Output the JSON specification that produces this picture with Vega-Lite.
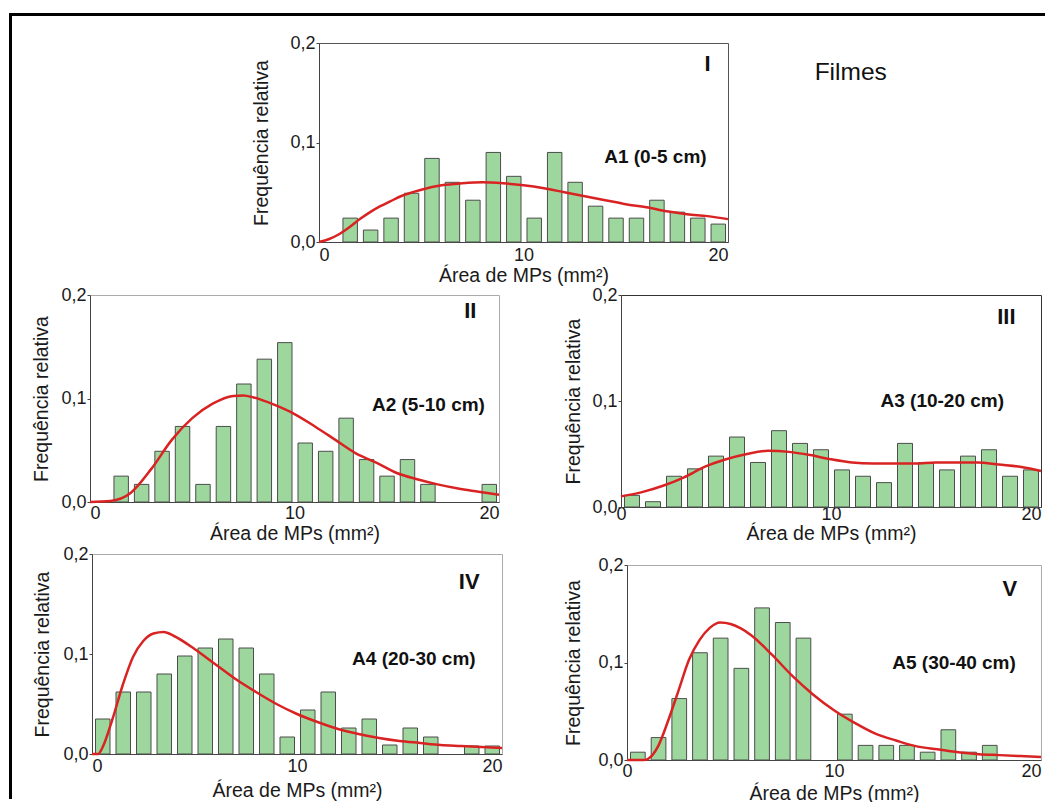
{
  "$schema": "https://vega.github.io/schema/vega-lite/v6.json",
  "background": "white",
  "padding": {"left": 10, "top": 14, "right": 0, "bottom": 0},
  "datasets": {
    "bars": [
      {"p":"I","x0":1,"x1":2,"f":0.024},{"p":"I","x0":2,"x1":3,"f":0.012},{"p":"I","x0":3,"x1":4,"f":0.024},{"p":"I","x0":4,"x1":5,"f":0.049},{"p":"I","x0":5,"x1":6,"f":0.084},{"p":"I","x0":6,"x1":7,"f":0.060},{"p":"I","x0":7,"x1":8,"f":0.042},{"p":"I","x0":8,"x1":9,"f":0.090},{"p":"I","x0":9,"x1":10,"f":0.066},{"p":"I","x0":10,"x1":11,"f":0.024},{"p":"I","x0":11,"x1":12,"f":0.090},{"p":"I","x0":12,"x1":13,"f":0.060},{"p":"I","x0":13,"x1":14,"f":0.036},{"p":"I","x0":14,"x1":15,"f":0.024},{"p":"I","x0":15,"x1":16,"f":0.024},{"p":"I","x0":16,"x1":17,"f":0.042},{"p":"I","x0":17,"x1":18,"f":0.030},{"p":"I","x0":18,"x1":19,"f":0.024},{"p":"I","x0":19,"x1":20,"f":0.018},
      {"p":"II","x0":1,"x1":2,"f":0.025},{"p":"II","x0":2,"x1":3,"f":0.017},{"p":"II","x0":3,"x1":4,"f":0.049},{"p":"II","x0":4,"x1":5,"f":0.073},{"p":"II","x0":5,"x1":6,"f":0.017},{"p":"II","x0":6,"x1":7,"f":0.073},{"p":"II","x0":7,"x1":8,"f":0.114},{"p":"II","x0":8,"x1":9,"f":0.138},{"p":"II","x0":9,"x1":10,"f":0.154},{"p":"II","x0":10,"x1":11,"f":0.057},{"p":"II","x0":11,"x1":12,"f":0.049},{"p":"II","x0":12,"x1":13,"f":0.081},{"p":"II","x0":13,"x1":14,"f":0.041},{"p":"II","x0":14,"x1":15,"f":0.025},{"p":"II","x0":15,"x1":16,"f":0.041},{"p":"II","x0":16,"x1":17,"f":0.017},{"p":"II","x0":19,"x1":20,"f":0.017},
      {"p":"III","x0":0,"x1":1,"f":0.011},{"p":"III","x0":1,"x1":2,"f":0.005},{"p":"III","x0":2,"x1":3,"f":0.029},{"p":"III","x0":3,"x1":4,"f":0.036},{"p":"III","x0":4,"x1":5,"f":0.048},{"p":"III","x0":5,"x1":6,"f":0.066},{"p":"III","x0":6,"x1":7,"f":0.042},{"p":"III","x0":7,"x1":8,"f":0.072},{"p":"III","x0":8,"x1":9,"f":0.060},{"p":"III","x0":9,"x1":10,"f":0.054},{"p":"III","x0":10,"x1":11,"f":0.035},{"p":"III","x0":11,"x1":12,"f":0.029},{"p":"III","x0":12,"x1":13,"f":0.023},{"p":"III","x0":13,"x1":14,"f":0.060},{"p":"III","x0":14,"x1":15,"f":0.042},{"p":"III","x0":15,"x1":16,"f":0.035},{"p":"III","x0":16,"x1":17,"f":0.048},{"p":"III","x0":17,"x1":18,"f":0.054},{"p":"III","x0":18,"x1":19,"f":0.029},{"p":"III","x0":19,"x1":20,"f":0.035},
      {"p":"IV","x0":0,"x1":1,"f":0.035},{"p":"IV","x0":1,"x1":2,"f":0.062},{"p":"IV","x0":2,"x1":3,"f":0.062},{"p":"IV","x0":3,"x1":4,"f":0.080},{"p":"IV","x0":4,"x1":5,"f":0.098},{"p":"IV","x0":5,"x1":6,"f":0.106},{"p":"IV","x0":6,"x1":7,"f":0.115},{"p":"IV","x0":7,"x1":8,"f":0.106},{"p":"IV","x0":8,"x1":9,"f":0.080},{"p":"IV","x0":9,"x1":10,"f":0.017},{"p":"IV","x0":10,"x1":11,"f":0.044},{"p":"IV","x0":11,"x1":12,"f":0.062},{"p":"IV","x0":12,"x1":13,"f":0.026},{"p":"IV","x0":13,"x1":14,"f":0.035},{"p":"IV","x0":14,"x1":15,"f":0.009},{"p":"IV","x0":15,"x1":16,"f":0.026},{"p":"IV","x0":16,"x1":17,"f":0.017},{"p":"IV","x0":18,"x1":19,"f":0.008},{"p":"IV","x0":19,"x1":20,"f":0.008},
      {"p":"V","x0":0,"x1":1,"f":0.008},{"p":"V","x0":1,"x1":2,"f":0.023},{"p":"V","x0":2,"x1":3,"f":0.063},{"p":"V","x0":3,"x1":4,"f":0.110},{"p":"V","x0":4,"x1":5,"f":0.125},{"p":"V","x0":5,"x1":6,"f":0.094},{"p":"V","x0":6,"x1":7,"f":0.156},{"p":"V","x0":7,"x1":8,"f":0.141},{"p":"V","x0":8,"x1":9,"f":0.125},{"p":"V","x0":10,"x1":11,"f":0.047},{"p":"V","x0":11,"x1":12,"f":0.015},{"p":"V","x0":12,"x1":13,"f":0.015},{"p":"V","x0":13,"x1":14,"f":0.015},{"p":"V","x0":14,"x1":15,"f":0.008},{"p":"V","x0":15,"x1":16,"f":0.031},{"p":"V","x0":16,"x1":17,"f":0.008},{"p":"V","x0":17,"x1":18,"f":0.015}
    ],
    "curve": [
      {"p":"I","x":0,"f":0},{"p":"I","x":0.5,"f":0.003},{"p":"I","x":1,"f":0.008},{"p":"I","x":1.5,"f":0.015},{"p":"I","x":2,"f":0.023},{"p":"I","x":2.5,"f":0.030},{"p":"I","x":3,"f":0.036},{"p":"I","x":3.5,"f":0.041},{"p":"I","x":4,"f":0.046},{"p":"I","x":5,"f":0.0525},{"p":"I","x":6,"f":0.057},{"p":"I","x":7,"f":0.059},{"p":"I","x":8,"f":0.060},{"p":"I","x":9,"f":0.059},{"p":"I","x":10,"f":0.057},{"p":"I","x":11,"f":0.054},{"p":"I","x":12,"f":0.050},{"p":"I","x":13,"f":0.046},{"p":"I","x":14,"f":0.042},{"p":"I","x":15,"f":0.038},{"p":"I","x":16,"f":0.035},{"p":"I","x":17,"f":0.031},{"p":"I","x":18,"f":0.028},{"p":"I","x":19,"f":0.026},{"p":"I","x":20,"f":0.023},
      {"p":"II","x":0,"f":0},{"p":"II","x":1,"f":0.001},{"p":"II","x":2,"f":0.009},{"p":"II","x":3,"f":0.032},{"p":"II","x":4,"f":0.060},{"p":"II","x":5,"f":0.081},{"p":"II","x":6,"f":0.095},{"p":"II","x":7,"f":0.1025},{"p":"II","x":7.5,"f":0.103},{"p":"II","x":8,"f":0.101},{"p":"II","x":9,"f":0.094},{"p":"II","x":10,"f":0.085},{"p":"II","x":11,"f":0.073},{"p":"II","x":12,"f":0.060},{"p":"II","x":13,"f":0.047},{"p":"II","x":14,"f":0.038},{"p":"II","x":15,"f":0.028},{"p":"II","x":16,"f":0.022},{"p":"II","x":17,"f":0.017},{"p":"II","x":18,"f":0.013},{"p":"II","x":19,"f":0.010},{"p":"II","x":20,"f":0.007},
      {"p":"III","x":0,"f":0.010},{"p":"III","x":1,"f":0.014},{"p":"III","x":2,"f":0.020},{"p":"III","x":3,"f":0.028},{"p":"III","x":4,"f":0.038},{"p":"III","x":5,"f":0.045},{"p":"III","x":6,"f":0.050},{"p":"III","x":7,"f":0.053},{"p":"III","x":8,"f":0.052},{"p":"III","x":9,"f":0.049},{"p":"III","x":10,"f":0.045},{"p":"III","x":11,"f":0.042},{"p":"III","x":12,"f":0.041},{"p":"III","x":13,"f":0.041},{"p":"III","x":14,"f":0.041},{"p":"III","x":15,"f":0.042},{"p":"III","x":16,"f":0.042},{"p":"III","x":17,"f":0.042},{"p":"III","x":18,"f":0.040},{"p":"III","x":19,"f":0.038},{"p":"III","x":20,"f":0.034},
      {"p":"IV","x":0,"f":0},{"p":"IV","x":0.3,"f":0},{"p":"IV","x":0.5,"f":0.006},{"p":"IV","x":1,"f":0.035},{"p":"IV","x":1.5,"f":0.069},{"p":"IV","x":2,"f":0.097},{"p":"IV","x":2.5,"f":0.113},{"p":"IV","x":3,"f":0.1205},{"p":"IV","x":3.5,"f":0.122},{"p":"IV","x":4,"f":0.118},{"p":"IV","x":5,"f":0.105},{"p":"IV","x":6,"f":0.090},{"p":"IV","x":7,"f":0.075},{"p":"IV","x":8,"f":0.062},{"p":"IV","x":9,"f":0.050},{"p":"IV","x":10,"f":0.040},{"p":"IV","x":11,"f":0.032},{"p":"IV","x":12,"f":0.025},{"p":"IV","x":13,"f":0.020},{"p":"IV","x":14,"f":0.016},{"p":"IV","x":15,"f":0.013},{"p":"IV","x":16,"f":0.011},{"p":"IV","x":17,"f":0.009},{"p":"IV","x":18,"f":0.008},{"p":"IV","x":19,"f":0.007},{"p":"IV","x":20,"f":0.006},
      {"p":"V","x":0,"f":0},{"p":"V","x":0.8,"f":0},{"p":"V","x":1,"f":0.001},{"p":"V","x":1.5,"f":0.014},{"p":"V","x":2,"f":0.041},{"p":"V","x":2.5,"f":0.072},{"p":"V","x":3,"f":0.103},{"p":"V","x":3.5,"f":0.123},{"p":"V","x":4,"f":0.1355},{"p":"V","x":4.5,"f":0.141},{"p":"V","x":5,"f":0.1395},{"p":"V","x":5.5,"f":0.135},{"p":"V","x":6,"f":0.128},{"p":"V","x":7,"f":0.108},{"p":"V","x":8,"f":0.086},{"p":"V","x":9,"f":0.067},{"p":"V","x":10,"f":0.051},{"p":"V","x":11,"f":0.038},{"p":"V","x":12,"f":0.027},{"p":"V","x":13,"f":0.020},{"p":"V","x":14,"f":0.014},{"p":"V","x":15,"f":0.011},{"p":"V","x":16,"f":0.008},{"p":"V","x":17,"f":0.006},{"p":"V","x":18,"f":0.005},{"p":"V","x":19,"f":0.004},{"p":"V","x":20,"f":0.003}
    ]
  },
  "config": {
    "font": "Liberation Sans",
    "axis": {"labelFont": "Liberation Sans", "titleFont": "Liberation Sans", "labelFontSize": 18, "titleFontSize": 19.5, "titleFontWeight": "normal", "labelColor": "#1a1a1a", "titleColor": "#1a1a1a", "domainColor": "#444", "tickColor": "#444", "grid": false},
    "axisX": {"ticks": false},
    "axisY": {"tickSize": 3, "labelPadding": 1},
    "text": {"font": "Liberation Sans", "color": "#111"}
  },
  "spacing": 0,
  "hconcat": [
    {
      "width": 19.5, "height": 783,
      "view": {"stroke": null},
      "data": {"values": [{"a": 0}]},
      "mark": {"type": "point", "opacity": 0, "size": 0, "filled": true, "strokeWidth": 0},
      "encoding": {
        "x": {"field": "a", "type": "quantitative", "scale": {"domain": [0, 1]}, "axis": {"orient": "top", "domainColor": "black", "domainWidth": 3, "domainCap": "square", "ticks": false, "labels": false, "title": null}},
        "y": {"field": "a", "type": "quantitative", "scale": {"domain": [0, 1]}, "axis": {"orient": "left", "domainColor": "black", "domainWidth": 3, "domainCap": "square", "ticks": false, "labels": false, "title": null}}
      }
    },
    {
      "spacing": 0,
      "vconcat": [
        {
          "width": 1012, "height": 18.5,
          "view": {"stroke": null},
          "data": {"values": [{"a": 0}]},
          "mark": {"type": "point", "opacity": 0, "size": 0, "filled": true, "strokeWidth": 0},
          "encoding": {
            "x": {"field": "a", "type": "quantitative", "scale": {"domain": [0, 1]}, "axis": {"orient": "top", "domainColor": "black", "domainWidth": 3, "domainCap": "square", "ticks": false, "labels": false, "title": null}}
          }
        },
        {
          "bounds": "flush", "spacing": 0,
          "hconcat": [
            {"width": 287.5, "height": 1, "view": {"stroke": null}, "data": {"values": [{"a": 0}]}, "mark": {"type": "point", "opacity": 0, "size": 0, "filled": true, "strokeWidth": 0}, "encoding": {}},
            {
              "width": 409, "height": 199,
              "view": {"stroke": "#555"},
              "layer": [
                {"data": {"name": "bars"}, "transform": [{"filter": "datum.p === 'I'"}],
                 "mark": {"type": "bar", "fill": "#9dd79d", "stroke": "#4d4d4d", "strokeWidth": 1, "binSpacing": 6},
                 "encoding": {
                   "x": {"field": "x0", "type": "quantitative", "bin": "binned", "scale": {"domain": [0, 20], "nice": false, "zero": false}, "axis": {"title": "Área de MPs (mm²)", "values": [0, 10, 20], "labelPadding": 4.5, "titlePadding": 1.5}},
                   "x2": {"field": "x1"},
                   "y": {"field": "f", "type": "quantitative", "scale": {"domain": [0, 0.2], "nice": false}, "axis": {"title": "Frequência relativa", "values": [0, 0.1, 0.2], "titlePadding": 18.9, "labelExpr": "replace(format(datum.value, '.1f'), '.', ',')"}}
                 }},
                {"data": {"name": "curve"}, "transform": [{"filter": "datum.p === 'I'"}],
                 "mark": {"type": "line", "color": "#d92323", "strokeWidth": 2.5, "interpolate": "monotone"},
                 "encoding": {"x": {"field": "x", "type": "quantitative"}, "y": {"field": "f", "type": "quantitative"}}},
                {"data": {"values": [{"t": "I"}]}, "mark": {"type": "text", "fontSize": 22, "fontWeight": "bold"}, "encoding": {"x": {"datum": 19}, "y": {"datum": 0.179}, "text": {"field": "t"}}},
                {"data": {"values": [{"t": "A1 (0-5 cm)"}]}, "mark": {"type": "text", "fontSize": 19, "fontWeight": "bold"}, "encoding": {"x": {"datum": 16.45}, "y": {"datum": 0.085}, "text": {"field": "t"}}},
                {"data": {"values": [{"t": "Filmes"}]}, "mark": {"type": "text", "fontSize": 24.5}, "encoding": {"x": {"datum": 26}, "y": {"datum": 0.17}, "text": {"field": "t"}}}
              ]
            }
          ]
        },
        {
          "bounds": "flush", "spacing": 0,
          "hconcat": [
            {"width": 58.5, "height": 1, "view": {"stroke": null}, "data": {"values": [{"a": 0}]}, "mark": {"type": "point", "opacity": 0, "size": 0, "filled": true, "strokeWidth": 0}, "encoding": {}},
            {
              "width": 409, "height": 207,
              "view": {"stroke": "#aaa"},
              "layer": [
                {"data": {"name": "bars"}, "transform": [{"filter": "datum.p === 'II'"}],
                 "mark": {"type": "bar", "fill": "#9dd79d", "stroke": "#4d4d4d", "strokeWidth": 1, "binSpacing": 6},
                 "encoding": {
                   "x": {"field": "x0", "type": "quantitative", "bin": "binned", "scale": {"domain": [0, 20], "nice": false, "zero": false}, "axis": {"title": "Área de MPs (mm²)", "values": [0, 10, 20], "labelPadding": 2, "titlePadding": 2}},
                   "x2": {"field": "x1"},
                   "y": {"field": "f", "type": "quantitative", "scale": {"domain": [0, 0.2], "nice": false}, "axis": {"title": "Frequência relativa", "values": [0, 0.1, 0.2], "titlePadding": 9.5, "labelExpr": "replace(format(datum.value, '.1f'), '.', ',')"}}
                 }},
                {"data": {"name": "curve"}, "transform": [{"filter": "datum.p === 'II'"}],
                 "mark": {"type": "line", "color": "#d92323", "strokeWidth": 2.5, "interpolate": "monotone"},
                 "encoding": {"x": {"field": "x", "type": "quantitative"}, "y": {"field": "f", "type": "quantitative"}}},
                {"data": {"values": [{"t": "II"}]}, "mark": {"type": "text", "fontSize": 22, "fontWeight": "bold"}, "encoding": {"x": {"datum": 18.6}, "y": {"datum": 0.1845}, "text": {"field": "t"}}},
                {"data": {"values": [{"t": "A2 (5-10 cm)"}]}, "mark": {"type": "text", "fontSize": 19, "fontWeight": "bold"}, "encoding": {"x": {"datum": 16.55}, "y": {"datum": 0.094}, "text": {"field": "t"}}}
              ]
            },
            {"width": 122, "height": 1, "view": {"stroke": null}, "data": {"values": [{"a": 0}]}, "mark": {"type": "point", "opacity": 0, "size": 0, "filled": true, "strokeWidth": 0}, "encoding": {}},
            {
              "width": 420, "height": 212,
              "view": {"stroke": "#333"},
              "layer": [
                {"data": {"name": "bars"}, "transform": [{"filter": "datum.p === 'III'"}],
                 "mark": {"type": "bar", "fill": "#9dd79d", "stroke": "#4d4d4d", "strokeWidth": 1, "binSpacing": 6},
                 "encoding": {
                   "x": {"field": "x0", "type": "quantitative", "bin": "binned", "scale": {"domain": [0, 20], "nice": false, "zero": false}, "axis": {"title": "Área de MPs (mm²)", "values": [0, 10, 20], "labelPadding": -1.5, "titlePadding": 1, "labelAlign": {"condition": {"test": "datum.value == 20", "value": "right"}, "value": "center"}}},
                   "x2": {"field": "x1"},
                   "y": {"field": "f", "type": "quantitative", "scale": {"domain": [0, 0.2], "nice": false}, "axis": {"title": "Frequência relativa", "values": [0, 0.1, 0.2], "titlePadding": 8.9, "labelExpr": "replace(format(datum.value, '.1f'), '.', ',')"}}
                 }},
                {"data": {"name": "curve"}, "transform": [{"filter": "datum.p === 'III'"}],
                 "mark": {"type": "line", "color": "#d92323", "strokeWidth": 2.5, "interpolate": "monotone"},
                 "encoding": {"x": {"field": "x", "type": "quantitative"}, "y": {"field": "f", "type": "quantitative"}}},
                {"data": {"values": [{"t": "III"}]}, "mark": {"type": "text", "fontSize": 22, "fontWeight": "bold"}, "encoding": {"x": {"datum": 18.35}, "y": {"datum": 0.179}, "text": {"field": "t"}}},
                {"data": {"values": [{"t": "A3 (10-20 cm)"}]}, "mark": {"type": "text", "fontSize": 19, "fontWeight": "bold"}, "encoding": {"x": {"datum": 15.3}, "y": {"datum": 0.0997}, "text": {"field": "t"}}}
              ]
            }
          ]
        },
        {
          "bounds": "flush", "spacing": 0,
          "hconcat": [
            {"width": 60.5, "height": 1, "view": {"stroke": null}, "data": {"values": [{"a": 0}]}, "mark": {"type": "point", "opacity": 0, "size": 0, "filled": true, "strokeWidth": 0}, "encoding": {}},
            {
              "width": 410, "height": 200,
              "view": {"stroke": "#aaa"},
              "layer": [
                {"data": {"name": "bars"}, "transform": [{"filter": "datum.p === 'IV'"}],
                 "mark": {"type": "bar", "fill": "#9dd79d", "stroke": "#4d4d4d", "strokeWidth": 1, "binSpacing": 6},
                 "encoding": {
                   "x": {"field": "x0", "type": "quantitative", "bin": "binned", "scale": {"domain": [0, 20], "nice": false, "zero": false}, "axis": {"title": "Área de MPs (mm²)", "values": [0, 10, 20], "labelPadding": 3, "titlePadding": 6.3}},
                   "x2": {"field": "x1"},
                   "y": {"field": "f", "type": "quantitative", "scale": {"domain": [0, 0.2], "nice": false}, "axis": {"title": "Frequência relativa", "values": [0, 0.1, 0.2], "titlePadding": 10.9, "labelExpr": "replace(format(datum.value, '.1f'), '.', ',')"}}
                 }},
                {"data": {"name": "curve"}, "transform": [{"filter": "datum.p === 'IV'"}],
                 "mark": {"type": "line", "color": "#d92323", "strokeWidth": 2.5, "interpolate": "monotone"},
                 "encoding": {"x": {"field": "x", "type": "quantitative"}, "y": {"field": "f", "type": "quantitative"}}},
                {"data": {"values": [{"t": "IV"}]}, "mark": {"type": "text", "fontSize": 22, "fontWeight": "bold"}, "encoding": {"x": {"datum": 18.4}, "y": {"datum": 0.172}, "text": {"field": "t"}}},
                {"data": {"values": [{"t": "A4 (20-30 cm)"}]}, "mark": {"type": "text", "fontSize": 19, "fontWeight": "bold"}, "encoding": {"x": {"datum": 15.7}, "y": {"datum": 0.095}, "text": {"field": "t"}}}
              ]
            },
            {"width": 125, "height": 1, "view": {"stroke": null}, "data": {"values": [{"a": 0}]}, "mark": {"type": "point", "opacity": 0, "size": 0, "filled": true, "strokeWidth": 0}, "encoding": {}},
            {
              "spacing": 0,
              "vconcat": [
                {"width": 1, "height": 0.01, "view": {"stroke": null}, "data": {"values": [{"a": 0}]}, "mark": {"type": "point", "opacity": 0, "size": 0, "filled": true, "strokeWidth": 0}, "encoding": {}},
                {
                  "width": 414, "height": 195,
                  "view": {"stroke": "#aaa"},
                  "layer": [
                    {"data": {"name": "bars"}, "transform": [{"filter": "datum.p === 'V'"}],
                     "mark": {"type": "bar", "fill": "#9dd79d", "stroke": "#4d4d4d", "strokeWidth": 1, "binSpacing": 6},
                     "encoding": {
                       "x": {"field": "x0", "type": "quantitative", "bin": "binned", "scale": {"domain": [0, 20], "nice": false, "zero": false}, "axis": {"title": "Área de MPs (mm²)", "values": [0, 10, 20], "labelPadding": 2, "titlePadding": 4.3, "labelAlign": {"condition": {"test": "datum.value == 20", "value": "right"}, "value": "center"}}},
                       "x2": {"field": "x1"},
                       "y": {"field": "f", "type": "quantitative", "scale": {"domain": [0, 0.2], "nice": false}, "axis": {"title": "Frequência relativa", "values": [0, 0.1, 0.2], "titlePadding": 14.9, "labelExpr": "replace(format(datum.value, '.1f'), '.', ',')"}}
                     }},
                    {"data": {"name": "curve"}, "transform": [{"filter": "datum.p === 'V'"}],
                     "mark": {"type": "line", "color": "#d92323", "strokeWidth": 2.5, "interpolate": "monotone"},
                     "encoding": {"x": {"field": "x", "type": "quantitative"}, "y": {"field": "f", "type": "quantitative"}}},
                    {"data": {"values": [{"t": "V"}]}, "mark": {"type": "text", "fontSize": 22, "fontWeight": "bold"}, "encoding": {"x": {"datum": 18.5}, "y": {"datum": 0.175}, "text": {"field": "t"}}},
                    {"data": {"values": [{"t": "A5 (30-40 cm)"}]}, "mark": {"type": "text", "fontSize": 19, "fontWeight": "bold"}, "encoding": {"x": {"datum": 15.8}, "y": {"datum": 0.099}, "text": {"field": "t"}}}
                  ]
                }
              ]
            }
          ]
        }
      ]
    }
  ]
}
